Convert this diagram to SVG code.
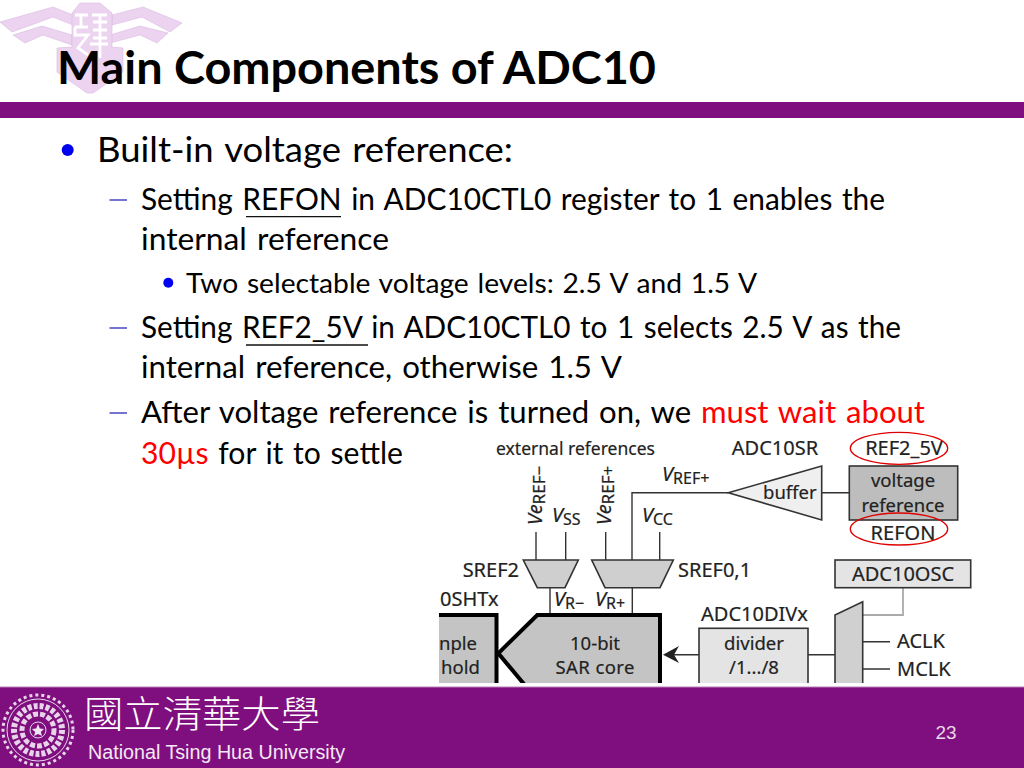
<svg xmlns="http://www.w3.org/2000/svg" width="1024" height="768" viewBox="0 0 1024 768">
<style>
text{font-family:"Lato","Noto Sans","Liberation Sans",sans-serif;fill:#000}
.b2{font-size:31px;word-spacing:2px}
.b3{font-size:27px;word-spacing:1.500px}
.red{fill:#f00}
.d{font-family:"Noto Sans","Open Sans",sans-serif;font-size:18.500px;fill:#222;stroke:#222;stroke-width:0.2}
.u{font-size:20px}
.m{text-anchor:middle}
.i{font-style:italic;font-size:20px}
.sub{font-size:16px}
.subv{font-size:17px}
.ln{stroke:#333;stroke-width:1.4;fill:none}
.box{stroke:#333;stroke-width:1.6}
.dash{stroke:#1a1ab0;stroke-width:1.200;fill:none}
.bul{fill:#0000f0}
.ul{stroke:#111;stroke-width:1.300}
.cir{fill:none;stroke:#e00000;stroke-width:1.300}
.thick{stroke:#000;stroke-width:4;fill:#c4c4c4}
.seal{fill:none;stroke:#e8d4ea}
.wing{fill:#ecd4f0;stroke:#d9b8e0;stroke-width:0.6}
</style>
<defs><clipPath id="clipd"><rect x="439" y="430" width="550" height="253"/></clipPath></defs>
<rect width="1024" height="768" fill="#fff"/>

<g id="logo">
<polygon class="wing" points="0,22 53,7 73,15 73,25 53,17 12,32"/>
<polygon class="wing" points="13,35 42,26 72,35 72,45 43,35 25,43"/>
<polygon class="wing" points="182,23 143,7 112,15 112,25 142,17 170,32"/>
<polygon class="wing" points="168,33 140,26 110,35 110,43 140,35 157,43"/>
<polygon class="wing" points="80,3 100,3 112,13 112,47 123,48 123,72 93,93 87,93 57,72 57,48 72,47 72,13"/>
<path fill="none" stroke="#fff" stroke-width="2.800" d="M75 15H88M81 15V27M75 27H88M75 27V35H88L78 48L88 55M92 15H107M93 22H107M93 30H107M93 38H107M100 15V50M90 44H108M100 50V58"/>
</g>

<g id="title"><text x="57" y="84" font-size="45" font-weight="700" textLength="599" lengthAdjust="spacingAndGlyphs">Main Components of ADC10</text></g>
<rect id="top-bar" x="0" y="102" width="1024" height="16" fill="#7f0f7f"/>

<g id="body">
<circle class="bul" cx="67.700" cy="150" r="6"/>
<text x="97" y="162" font-size="35" style="word-spacing:2px" textLength="416" lengthAdjust="spacingAndGlyphs">Built-in voltage reference:</text>
<path class="dash" d="M109.500 200H127"/>
<text class="b2" x="141" y="210" textLength="744" lengthAdjust="spacingAndGlyphs">Setting REFON in ADC10CTL0 register to 1 enables the</text>
<path class="ul" d="M246 216.700H341"/>
<text class="b2" x="141" y="250" textLength="248" lengthAdjust="spacingAndGlyphs">internal reference</text>
<circle class="bul" cx="168.300" cy="282.700" r="5"/>
<text class="b3" x="186" y="293" textLength="571" lengthAdjust="spacingAndGlyphs">Two selectable voltage levels: 2.5 V and 1.5 V</text>
<path class="dash" d="M109.500 328H127"/>
<text class="b2" x="141" y="338" textLength="760" lengthAdjust="spacingAndGlyphs">Setting REF2_5V in ADC10CTL0 to 1 selects 2.5 V as the</text>
<path class="ul" d="M246 345H368"/>
<text class="b2" x="141" y="378" textLength="481" lengthAdjust="spacingAndGlyphs">internal reference, otherwise 1.5 V</text>
<path class="dash" d="M109.500 413H127"/>
<text class="b2" x="141" y="423" textLength="784" lengthAdjust="spacingAndGlyphs">After voltage reference is turned on, we <tspan class="red">must wait about</tspan></text>
<text class="b2" x="141" y="464" textLength="262" lengthAdjust="spacingAndGlyphs"><tspan class="red">30µs</tspan> for it to settle</text>
</g>

<g id="connectors" clip-path="url(#clipd)">
<path class="ln" d="M536 532V560M565.700 532V560M605.700 532V560M659.700 532V560M632 560V492.700H728.300M550 587.700V615M632.300 587.700V615M821.700 492.700H849.300M808 654.700H835M862.700 641.700H890M862.700 669H890M699 654.700H672"/>
<path d="M903 587.700V615H862.700" fill="none" stroke="#aaa" stroke-width="1.800"/>
<polygon fill="#222" points="663,654.700 679,646 674,654.700 679,663"/>
</g>

<g id="diagram-nodes" clip-path="url(#clipd)">
<g id="mux-sref2"><polygon class="box" fill="#cfcfcf" points="523.300,560 578.300,560 565,587.700 537.300,587.700"/><text class="d u" x="519" y="577" text-anchor="end">SREF2</text></g>
<g id="mux-sref01"><polygon class="box" fill="#cfcfcf" points="591.700,560 673.300,560 660,587.700 605,587.700"/><text class="d u" x="678" y="577">SREF0,1</text></g>
<g id="sample-hold"><rect class="thick" x="430" y="615" width="66.500" height="90"/><text class="d" x="439" y="650">nple</text><text class="d" x="441" y="674">hold</text><text class="d u" x="440" y="606">0SHTx</text></g>
<g id="sar-core"><polygon class="thick" points="537.300,615 660,615 660,700 537.300,700 498.300,653.300"/><text class="d m" x="595" y="650">10-bit</text><text class="d m" x="595" y="674" textLength="79">SAR core</text></g>
<g id="divider"><rect class="box" fill="#e4e4e4" x="699" y="628.300" width="109" height="60"/><text class="d m" x="754" y="650">divider</text><text class="d m" x="754" y="674">/1.../8</text><text class="d u" x="701" y="621">ADC10DIVx</text></g>
<g id="clock-mux"><polygon class="box" fill="#d0d0d0" points="835,615 862.700,601.700 862.700,700 835,700"/></g>
<g id="adc10osc"><rect class="box" fill="#e4e4e4" x="835" y="560" width="135.700" height="27.700"/><text class="d u m" x="903" y="581">ADC10OSC</text></g>
<g id="buffer"><polygon class="box" stroke-width="1.300" fill="#efefef" points="728.300,492.700 821.700,466 821.700,520"/><text class="d" x="763" y="499">buffer</text><text class="d u m" x="775" y="455">ADC10SR</text></g>
<g id="voltage-reference"><rect class="box" fill="#bdbdbd" x="849.300" y="466" width="108.400" height="54"/><text class="d m" x="903" y="487">voltage</text><text class="d m" x="903" y="512">reference</text></g>
<g id="ref2-5v"><text class="d u m" x="904" y="455">REF2_5V</text><ellipse class="cir" cx="899" cy="448.300" rx="48.700" ry="16"/></g>
<g id="refon"><text class="d u m" x="903" y="540">REFON</text><ellipse class="cir" cx="899" cy="529" rx="48.700" ry="16"/></g>
<g id="labels">
<text class="d" x="496" y="455" textLength="159" lengthAdjust="spacingAndGlyphs">external references</text>
<text class="d" transform="translate(542,525) rotate(-90)"><tspan class="i">Ve</tspan><tspan class="subv" dy="3">REF−</tspan></text>
<text class="d" x="552" y="522"><tspan class="i">V</tspan><tspan class="sub" dy="3">SS</tspan></text>
<text class="d" transform="translate(611,525) rotate(-90)"><tspan class="i">Ve</tspan><tspan class="subv" dy="3">REF+</tspan></text>
<text class="d" x="642" y="522"><tspan class="i">V</tspan><tspan class="sub" dy="3">CC</tspan></text>
<text class="d" x="662" y="481"><tspan class="i">V</tspan><tspan class="sub" dy="3">REF+</tspan></text>
<text class="d" x="554" y="606"><tspan class="i">V</tspan><tspan class="sub" dy="3">R−</tspan></text>
<text class="d" x="595" y="606"><tspan class="i">V</tspan><tspan class="sub" dy="3">R+</tspan></text>
<text class="d u" x="897" y="648">ACLK</text>
<text class="d u" x="897" y="676">MCLK</text>
</g>
</g>

<g id="footer">
<rect x="0" y="687" width="1024" height="81" fill="#7f0f7f"/>
<path d="M0 687H1024" stroke="#b87fb8" stroke-width="1"/>
<g id="seal">
<circle class="seal" cx="38" cy="730" r="35" stroke-width="3" stroke-dasharray="3 3"/>
<circle class="seal" cx="38" cy="730" r="31" stroke-width="1"/>
<circle class="seal" cx="38" cy="730" r="24" stroke-width="6" stroke-dasharray="4 2"/>
<circle class="seal" cx="38" cy="730" r="16" stroke-width="5" stroke-dasharray="5 2"/>
<circle cx="38" cy="730" r="8" fill="#7f0f7f" stroke="#e8d4ea"/>
<polygon fill="#f2e4f2" points="38,724 39.800,728.500 44,729 40.800,732 42,736 38,734 34,736 35.200,732 32,729 36.200,728.500"/>
</g>
<text x="84" y="728" font-size="37" style="font-family:'Noto Sans CJK TC',sans-serif;fill:#fff" font-weight="300" textLength="236" lengthAdjust="spacingAndGlyphs">國立清華大學</text>
<text x="88" y="759" font-size="19.500" style="font-family:'Liberation Sans',sans-serif;fill:#f4e8f4" textLength="257" lengthAdjust="spacingAndGlyphs">National Tsing Hua University</text>
<text x="946" y="739" font-size="19" class="m" style="font-family:'Liberation Sans',sans-serif;fill:#e8d8e8">23</text>
</g>
</svg>
